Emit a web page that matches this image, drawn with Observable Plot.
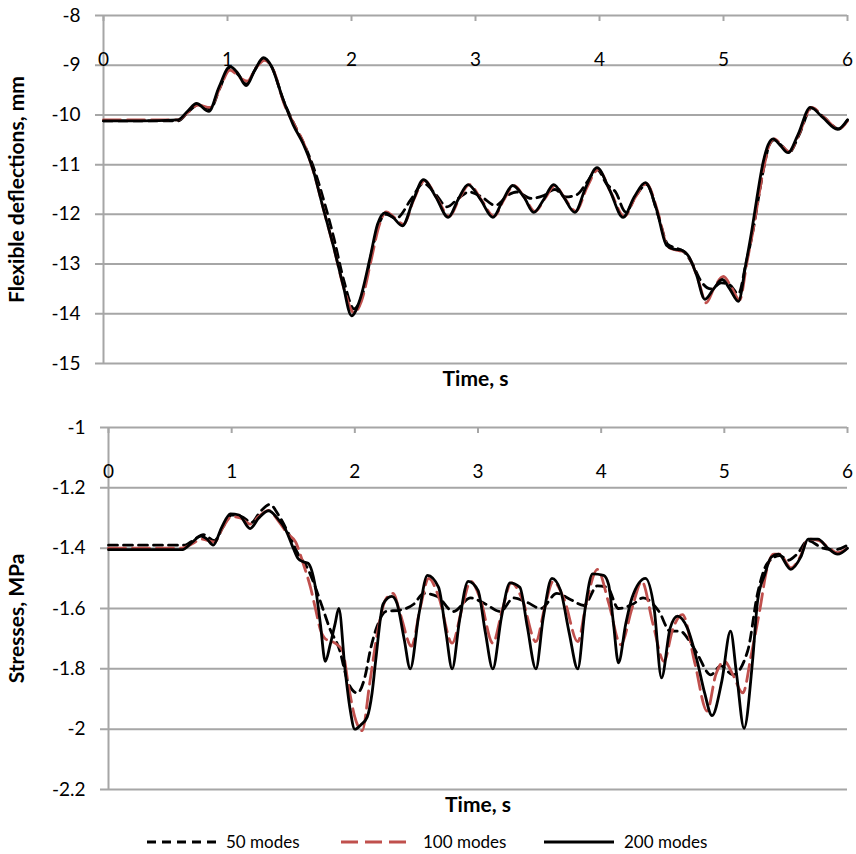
<!DOCTYPE html>
<html><head><meta charset="utf-8">
<script src="https://cdn.jsdelivr.net/npm/d3@7"></script>
<script src="https://cdn.jsdelivr.net/npm/@observablehq/plot@0.6"></script>
<style>
body{margin:0;background:#fff;}
#chart{position:relative;width:856px;height:854px;font-family:Lato,sans-serif;background:#fff;}
#top,#bottom{position:absolute;left:0;}
#top{top:0}
#bottom{top:400px}
.lg{position:absolute;top:831px;height:22px;font-size:17px;line-height:22px;color:#000;}
.lg svg{position:absolute;top:0;}
</style></head><body>
<div id="chart"><div id="top"></div><div id="bottom"></div><div id="legend"></div></div>
<script>
const seriesNames = ["50 modes", "100 modes", "200 modes"];
const seriesColors = ["#000000", "#c0504d", "#000000"];
const seriesDash = ["9,6", "17,7", null];
const xTicks = [0, 1, 2, 3, 4, 5, 6];
const deflTicks = [-8, -9, -10, -11, -12, -13, -14, -15];
const stressTicks = [-1, -1.2, -1.4, -1.6, -1.8, -2, -2.2];
const xLabel = "Time, s";
const deflLabel = "Flexible deflections, mm";
const stressLabel = "Stresses, MPa";

// Flexible deflections, mm  [time s, value]
const defl50 = [[0,-10.12],[0.6,-10.12],[0.68,-9.95],[0.76,-9.8],[0.86,-9.88],[0.94,-9.45],[1.02,-9.05],[1.09,-9.2],[1.15,-9.38],[1.22,-9.1],[1.29,-8.87],[1.36,-9.05],[1.45,-9.7],[1.54,-10.2],[1.62,-10.6],[1.7,-11.1],[1.78,-11.75],[1.86,-12.5],[1.94,-13.35],[2.02,-13.9],[2.09,-13.6],[2.16,-12.8],[2.22,-12.2],[2.28,-12.0],[2.36,-12.08],[2.48,-11.7],[2.58,-11.38],[2.68,-11.6],[2.77,-11.85],[2.86,-11.68],[2.95,-11.55],[3.05,-11.65],[3.16,-11.82],[3.27,-11.6],[3.33,-11.55],[3.45,-11.68],[3.55,-11.62],[3.64,-11.5],[3.73,-11.65],[3.82,-11.6],[3.9,-11.35],[3.98,-11.1],[4.06,-11.4],[4.13,-11.55],[4.21,-11.95],[4.3,-11.6],[4.38,-11.4],[4.47,-12.0],[4.55,-12.6],[4.62,-12.68],[4.68,-12.75],[4.75,-13.0],[4.82,-13.35],[4.9,-13.5],[4.98,-13.38],[5.05,-13.42],[5.12,-13.6],[5.18,-13.0],[5.24,-12.3],[5.28,-11.7],[5.33,-11.0],[5.37,-10.6],[5.41,-10.5],[5.47,-10.62],[5.53,-10.75],[5.61,-10.4],[5.71,-9.86],[5.81,-10.05],[5.93,-10.28],[6.0,-10.1]];
const defl100 = [[0,-10.1],[0.6,-10.1],[0.68,-9.95],[0.76,-9.8],[0.86,-9.85],[0.94,-9.45],[1.02,-9.1],[1.1,-9.25],[1.16,-9.32],[1.23,-9.05],[1.3,-8.9],[1.37,-9.1],[1.46,-9.8],[1.54,-10.2],[1.62,-10.6],[1.7,-11.2],[1.78,-11.95],[1.86,-12.7],[1.94,-13.5],[2.02,-13.98],[2.08,-13.75],[2.16,-12.9],[2.22,-12.25],[2.28,-11.95],[2.34,-12.05],[2.42,-12.2],[2.5,-11.72],[2.59,-11.32],[2.69,-11.68],[2.79,-12.04],[2.87,-11.68],[2.95,-11.4],[3.05,-11.72],[3.15,-12.04],[3.23,-11.7],[3.31,-11.42],[3.4,-11.68],[3.48,-11.94],[3.56,-11.68],[3.64,-11.42],[3.72,-11.68],[3.81,-11.94],[3.9,-11.45],[3.99,-11.1],[4.09,-11.55],[4.2,-12.04],[4.29,-11.65],[4.38,-11.38],[4.47,-11.95],[4.55,-12.65],[4.62,-12.72],[4.68,-12.75],[4.74,-12.95],[4.8,-13.35],[4.86,-13.78],[4.93,-13.45],[5.0,-13.25],[5.06,-13.45],[5.13,-13.72],[5.19,-12.95],[5.24,-12.3],[5.28,-11.7],[5.33,-11.0],[5.37,-10.6],[5.41,-10.48],[5.47,-10.62],[5.53,-10.74],[5.61,-10.38],[5.71,-9.85],[5.81,-10.05],[5.93,-10.28],[6.0,-10.12]];
const defl200 = [[0,-10.12],[0.3,-10.12],[0.6,-10.1],[0.68,-9.92],[0.75,-9.77],[0.85,-9.93],[0.93,-9.45],[1.02,-9.03],[1.08,-9.15],[1.15,-9.41],[1.22,-9.1],[1.29,-8.85],[1.35,-9.0],[1.45,-9.7],[1.53,-10.2],[1.61,-10.58],[1.69,-11.1],[1.77,-11.86],[1.85,-12.6],[1.93,-13.4],[2.0,-14.04],[2.07,-13.7],[2.15,-12.87],[2.21,-12.2],[2.27,-11.97],[2.33,-12.05],[2.41,-12.23],[2.5,-11.7],[2.58,-11.3],[2.68,-11.65],[2.78,-12.06],[2.86,-11.7],[2.94,-11.4],[3.04,-11.7],[3.14,-12.06],[3.22,-11.72],[3.3,-11.42],[3.39,-11.65],[3.47,-11.96],[3.55,-11.7],[3.63,-11.4],[3.71,-11.65],[3.8,-11.96],[3.89,-11.45],[3.98,-11.06],[4.08,-11.5],[4.19,-12.06],[4.28,-11.65],[4.37,-11.36],[4.46,-11.9],[4.54,-12.62],[4.6,-12.7],[4.66,-12.72],[4.72,-12.85],[4.78,-13.2],[4.85,-13.71],[4.92,-13.5],[4.99,-13.31],[5.05,-13.5],[5.12,-13.75],[5.18,-13.0],[5.23,-12.3],[5.27,-11.66],[5.32,-10.95],[5.36,-10.6],[5.4,-10.48],[5.46,-10.62],[5.52,-10.76],[5.6,-10.4],[5.7,-9.85],[5.8,-10.05],[5.92,-10.29],[6.0,-10.1]];

// Stresses, MPa  [time s, value]
const stress50 = [[0,-1.39],[0.55,-1.39],[0.62,-1.39],[0.7,-1.37],[0.77,-1.355],[0.86,-1.375],[0.93,-1.33],[1.0,-1.29],[1.08,-1.295],[1.16,-1.315],[1.23,-1.28],[1.31,-1.255],[1.38,-1.29],[1.46,-1.35],[1.54,-1.42],[1.62,-1.47],[1.68,-1.53],[1.74,-1.6],[1.8,-1.67],[1.87,-1.73],[1.95,-1.85],[2.02,-1.88],[2.08,-1.83],[2.13,-1.73],[2.18,-1.66],[2.25,-1.61],[2.37,-1.605],[2.48,-1.585],[2.56,-1.55],[2.67,-1.56],[2.8,-1.61],[2.94,-1.565],[3.06,-1.585],[3.18,-1.61],[3.29,-1.565],[3.4,-1.58],[3.51,-1.6],[3.64,-1.55],[3.75,-1.57],[3.86,-1.59],[3.97,-1.525],[4.05,-1.53],[4.14,-1.6],[4.26,-1.585],[4.34,-1.565],[4.47,-1.61],[4.56,-1.675],[4.64,-1.675],[4.72,-1.71],[4.78,-1.75],[4.89,-1.82],[4.97,-1.79],[5.07,-1.82],[5.19,-1.74],[5.27,-1.55],[5.35,-1.45],[5.45,-1.425],[5.52,-1.44],[5.59,-1.42],[5.68,-1.375],[5.8,-1.4],[5.9,-1.405],[6.0,-1.39]];
const stress100 = [[0,-1.4],[0.6,-1.4],[0.68,-1.385],[0.76,-1.37],[0.86,-1.38],[0.93,-1.33],[1.0,-1.295],[1.07,-1.3],[1.15,-1.32],[1.22,-1.295],[1.3,-1.275],[1.38,-1.31],[1.45,-1.35],[1.52,-1.38],[1.58,-1.45],[1.64,-1.53],[1.68,-1.6],[1.72,-1.67],[1.76,-1.7],[1.84,-1.715],[1.9,-1.74],[1.95,-1.86],[2.0,-1.96],[2.06,-2.005],[2.12,-1.85],[2.19,-1.665],[2.25,-1.57],[2.31,-1.55],[2.37,-1.62],[2.46,-1.725],[2.53,-1.6],[2.6,-1.5],[2.68,-1.56],[2.79,-1.715],[2.87,-1.6],[2.94,-1.51],[3.02,-1.57],[3.12,-1.715],[3.2,-1.6],[3.27,-1.515],[3.36,-1.57],[3.47,-1.71],[3.54,-1.6],[3.61,-1.51],[3.7,-1.57],[3.81,-1.71],[3.88,-1.58],[3.97,-1.47],[4.06,-1.58],[4.16,-1.72],[4.25,-1.6],[4.33,-1.51],[4.42,-1.65],[4.51,-1.775],[4.58,-1.67],[4.66,-1.62],[4.76,-1.78],[4.86,-1.94],[4.93,-1.82],[5.0,-1.775],[5.07,-1.82],[5.15,-1.88],[5.22,-1.75],[5.29,-1.6],[5.34,-1.48],[5.4,-1.42],[5.45,-1.42],[5.54,-1.465],[5.62,-1.425],[5.68,-1.37],[5.77,-1.375],[5.85,-1.4],[5.92,-1.415],[6.0,-1.4]];
const stress200 = [[0,-1.405],[0.3,-1.405],[0.6,-1.405],[0.68,-1.38],[0.75,-1.36],[0.8,-1.37],[0.85,-1.39],[0.92,-1.33],[0.99,-1.286],[1.06,-1.29],[1.15,-1.335],[1.22,-1.3],[1.3,-1.276],[1.37,-1.3],[1.44,-1.34],[1.5,-1.4],[1.54,-1.435],[1.58,-1.445],[1.62,-1.45],[1.68,-1.53],[1.72,-1.65],[1.76,-1.775],[1.8,-1.72],[1.84,-1.65],[1.87,-1.6],[1.92,-1.8],[1.96,-1.93],[2.0,-2.0],[2.05,-1.985],[2.1,-1.96],[2.14,-1.88],[2.17,-1.77],[2.23,-1.585],[2.3,-1.56],[2.34,-1.58],[2.4,-1.7],[2.45,-1.8],[2.52,-1.62],[2.59,-1.49],[2.68,-1.53],[2.74,-1.68],[2.79,-1.8],[2.85,-1.64],[2.92,-1.51],[3.0,-1.54],[3.06,-1.68],[3.12,-1.8],[3.19,-1.63],[3.26,-1.515],[3.34,-1.53],[3.4,-1.66],[3.47,-1.8],[3.53,-1.63],[3.6,-1.5],[3.67,-1.54],[3.74,-1.68],[3.81,-1.8],[3.87,-1.6],[3.93,-1.485],[4.02,-1.49],[4.06,-1.52],[4.1,-1.65],[4.14,-1.78],[4.2,-1.65],[4.25,-1.565],[4.36,-1.5],[4.43,-1.6],[4.49,-1.83],[4.56,-1.665],[4.62,-1.625],[4.7,-1.665],[4.78,-1.775],[4.84,-1.88],[4.9,-1.955],[4.98,-1.84],[5.05,-1.675],[5.1,-1.82],[5.16,-1.997],[5.23,-1.77],[5.27,-1.575],[5.33,-1.485],[5.38,-1.43],[5.44,-1.42],[5.54,-1.47],[5.62,-1.43],[5.68,-1.37],[5.76,-1.37],[5.84,-1.4],[5.92,-1.42],[6.0,-1.4]];

const grid = "#a6a6a6";
const font = "Lato, sans-serif";

function panel({series, yTicks, yDomain, yLabel, height, marginTop, marginBottom, marginLeft, labelY}) {
  const frameH = height - marginTop - marginBottom;
  const lines = series.map((s, i) => Plot.line(s, {
    x: d => d[0], y: d => d[1],
    stroke: seriesColors[i], strokeWidth: 2.8,
    strokeDasharray: seriesDash[i] || undefined,
    curve: "monotone-x"
  }));
  return Plot.plot({
    width: 856, height, marginTop, marginBottom, marginLeft, marginRight: 9,
    style: {fontFamily: font, fontSize: "19px", color: "#000", background: "#fff", overflow: "visible"},
    x: {domain: [0, 6], axis: null},
    y: {domain: yDomain, axis: null},
    marks: [
      Plot.ruleY(yTicks, {y: d => d, stroke: grid, strokeWidth: 2, insetLeft: -8}),
      Plot.ruleX([0], {x: d => d, stroke: grid, strokeWidth: 2}),
      Plot.tickX(xTicks, {x: d => d, stroke: grid, strokeWidth: 2, insetBottom: frameH - 6}),
      Plot.text(yTicks, {y: d => d, text: d => String(d), frameAnchor: "left", textAnchor: "end", dx: -23, fontSize: 19}),
      Plot.text(xTicks, {x: d => d, text: d => String(d), frameAnchor: "top", dy: 37, fontSize: 19}),
      Plot.text([yLabel], {text: d => d, frameAnchor: "left", textAnchor: "middle", rotate: -90, dx: -marginLeft + 17, dy: labelY, fontWeight: "bold", fontSize: 21}),
      Plot.text([xLabel], {text: d => d, frameAnchor: "bottom", dy: 22, fontWeight: "bold", fontSize: 21}),
      ...lines
    ]
  });
}

document.getElementById("top").appendChild(panel({
  series: [defl50, defl100, defl200], yTicks: deflTicks, yDomain: [-15, -8], yLabel: deflLabel,
  height: 400, marginTop: 15, marginBottom: 37, marginLeft: 103, labelY: 0
}));
document.getElementById("bottom").appendChild(panel({
  series: [stress50, stress100, stress200], yTicks: stressTicks, yDomain: [-2.2, -1], yLabel: stressLabel,
  height: 420, marginTop: 27, marginBottom: 31, marginLeft: 108, labelY: 10
}));

// Legend
const legendPos = [[147, 226], [341, 423], [544, 624]];
const legend = document.getElementById("legend");
seriesNames.forEach((name, i) => {
  const [lx, tx] = legendPos[i];
  const w = tx - lx - 10;
  const item = document.createElement("div");
  item.className = "lg";
  item.style.left = lx + "px";
  item.innerHTML = `<svg width="${w}" height="22"><line x1="0" x2="${w}" y1="11" y2="11" stroke="${seriesColors[i]}" stroke-width="3" ${seriesDash[i] ? `stroke-dasharray="${seriesDash[i]}"` : ""}/></svg><span style="position:absolute;left:${tx - lx}px;white-space:nowrap">${name}</span>`;
  legend.appendChild(item);
});
</script>
</body></html>
